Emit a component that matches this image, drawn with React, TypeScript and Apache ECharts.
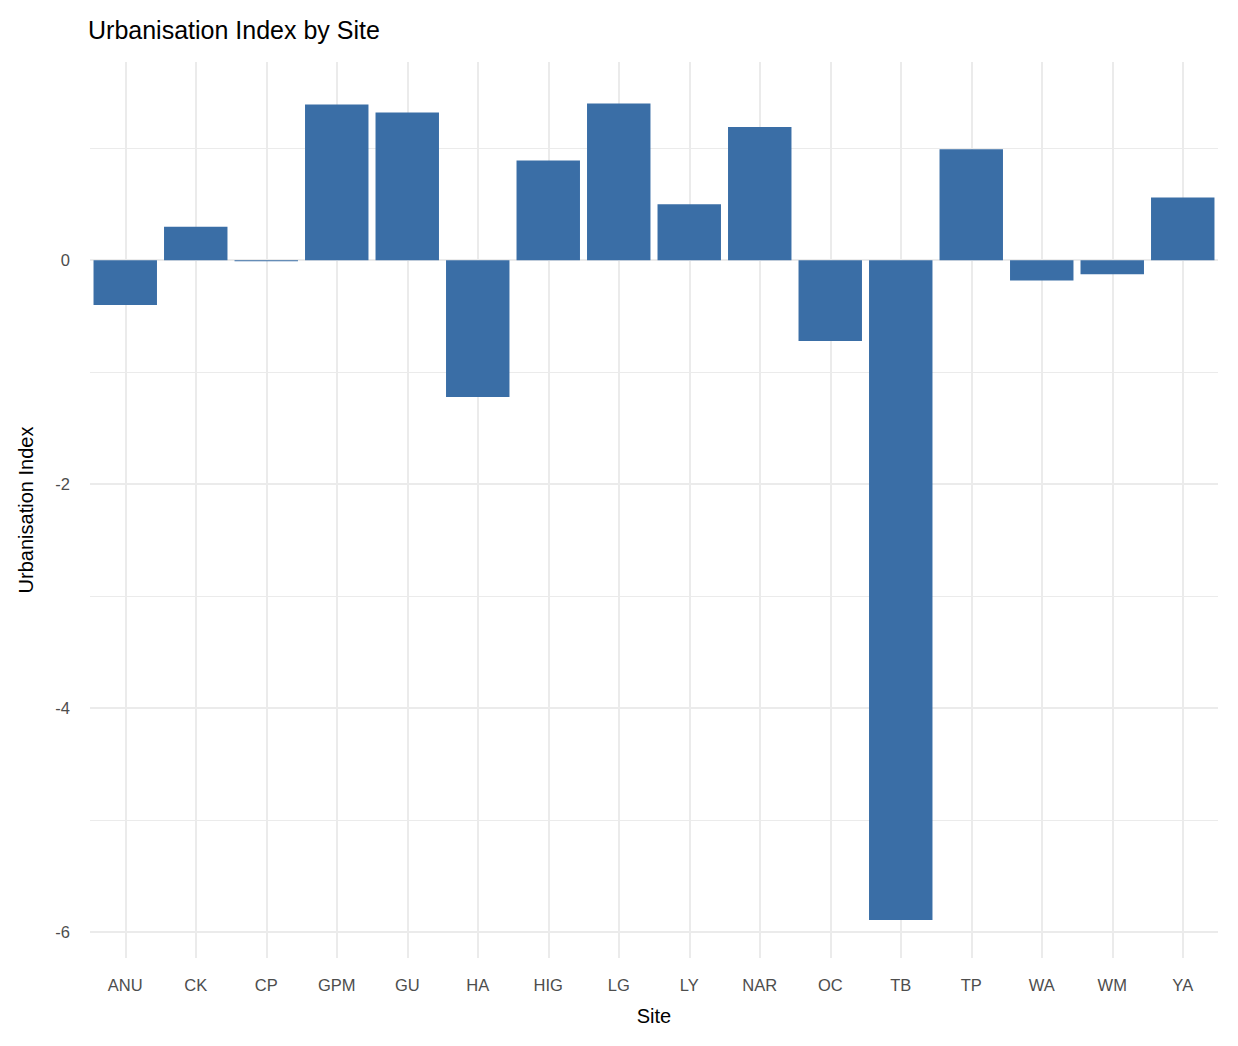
import React, { useRef, useEffect } from "react";
import * as echarts from "echarts";

const sites = ["ANU", "CK", "CP", "GPM", "GU", "HA", "HIG", "LG", "LY", "NAR", "OC", "TB", "TP", "WA", "WM", "YA"];
const urbanIndex = [-0.4, 0.3, -0.01, 1.39, 1.32, -1.22, 0.89, 1.4, 0.5, 1.19, -0.72, -5.89, 0.99, -0.18, -0.125, 0.56];
const majorTicks = [-6, -4, -2, 0];
const minorTicks = [-5, -3, -1, 1];

const App = () => {
  const chartRef = useRef(null);

  useEffect(() => {
    if (!chartRef.current) return;
    const chart = echarts.init(chartRef.current, null, { renderer: "svg" });
    const font = "Liberation Sans, Arial, sans-serif";

    // 网格线用 markLine 画，避免 interval 从 min 起算的问题
    const gridLines = [
      ...majorTicks.map((v) => ({ yAxis: v, lineStyle: { color: "#ebebeb", width: 2, type: "solid" } })),
      ...minorTicks.map((v) => ({ yAxis: v, lineStyle: { color: "#ebebeb", width: 1, type: "solid" } })),
      ...sites.map((s) => ({ xAxis: s, lineStyle: { color: "#ebebeb", width: 2, type: "solid" } })),
    ];

    chart.setOption({
      animation: false,
      textStyle: { fontFamily: font },
      title: {
        text: "Urbanisation Index by Site",
        left: 83,
        top: 12,
        textStyle: { fontSize: 25, fontWeight: "normal", color: "#000", fontFamily: font },
      },
      grid: { left: 90, right: 20, top: 62, bottom: 88 },
      xAxis: {
        type: "category",
        data: sites,
        name: "Site",
        nameLocation: "middle",
        nameGap: 48,
        nameTextStyle: { fontSize: 20, color: "#000" },
        axisLine: { show: false },
        axisTick: { show: false },
        axisLabel: { fontSize: 16.5, color: "#4d4d4d", margin: 18 },
      },
      yAxis: {
        type: "value",
        min: -6.23,
        max: 1.77,
        name: "Urbanisation Index",
        nameLocation: "middle",
        nameGap: 54,
        nameTextStyle: { fontSize: 20, color: "#000" },
        splitLine: { show: false },
        axisLine: { show: false },
        axisTick: { show: false },
        axisLabel: {
          customValues: majorTicks,
          fontSize: 16.5,
          color: "#4d4d4d",
          margin: 20,
        },
      },
      series: [
        {
          type: "bar",
          data: urbanIndex,
          barCategoryGap: "10%",
          itemStyle: { color: "#3a6ea6" },
          z: 3,
          markLine: {
            silent: true,
            symbol: "none",
            label: { show: false },
            z: 1,
            data: gridLines,
          },
        },
      ],
    });

    return () => chart.dispose();
  }, []);

  return <div ref={chartRef} style={{ position: "absolute", left: 0, top: 0, width: 1238, height: 1046 }} />;
};

export default App;
